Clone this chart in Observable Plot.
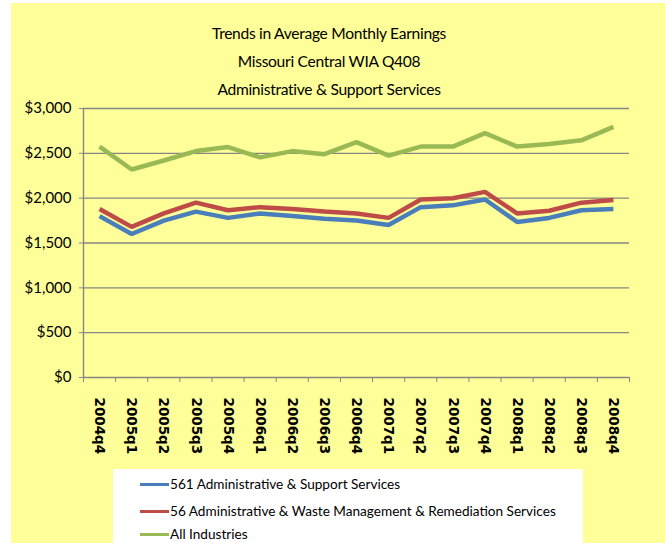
<!DOCTYPE html>
<html><head><meta charset="utf-8">
<script src="https://cdn.jsdelivr.net/npm/d3@7"></script>
<script src="https://cdn.jsdelivr.net/npm/@observablehq/plot@0.6"></script>
<style>
body{margin:0;background:#fff;width:665px;height:543px;overflow:hidden;position:relative;font-family:Lato,"Open Sans",Arial,sans-serif;color:#000}
#panel{position:absolute;left:11px;top:3px;width:654px;height:540px;background:#FFFF99}
.title{position:absolute;left:0;width:658px;text-align:center;font-size:15.6px;line-height:20px;letter-spacing:-0.3px}
#chart{position:absolute;left:11px;top:100px}
#legend{position:absolute;left:113px;top:469px;width:470px;height:74px;background:#fff}
.row{position:absolute;left:27px;height:20px;display:flex;align-items:center;font-size:13.6px;white-space:nowrap}
.sw{width:29px;height:3px;margin-right:1px}
</style>
</head><body>
<div id="panel"></div>
<div class="title" style="top:23px">Trends in Average Monthly Earnings</div>
<div class="title" style="top:51px">Missouri Central WIA Q408</div>
<div class="title" style="top:79px">Administrative &amp; Support Services</div>
<div id="chart"></div>
<div id="legend"></div>
<script>
const quarters = ["2004q4","2005q1","2005q2","2005q3","2005q4","2006q1","2006q2","2006q3","2006q4","2007q1","2007q2","2007q3","2007q4","2008q1","2008q2","2008q3","2008q4"];
const adminSupport = [1800,1600,1750,1850,1780,1830,1800,1770,1750,1700,1900,1920,1985,1735,1780,1865,1880];
const adminWaste = [1880,1680,1830,1950,1865,1900,1880,1850,1830,1780,1985,2000,2070,1830,1860,1950,1980];
const allIndustries = [2575,2320,2420,2525,2570,2455,2525,2490,2625,2475,2575,2575,2725,2575,2605,2645,2795];
const seriesNames = ["561 Administrative & Support Services","56 Administrative & Waste Management & Remediation Services","All Industries"];
const seriesColors = ["#4A7EBB","#BE4B48","#98B954"];
const yTicks = [0,500,1000,1500,2000,2500,3000];

const seriesValues = [adminSupport, adminWaste, allIndustries];
const rows = [];
seriesValues.forEach((vals, s) => vals.forEach((v, i) => rows.push({i: i + 0.5, v, series: seriesNames[s]})));

const gray = "#868686";
const chart = Plot.plot({
  width: 654,
  height: 365,
  marginLeft: 72,
  marginRight: 36,
  marginTop: 8,
  marginBottom: 88,
  style: {background: "transparent", color: "#000", overflow: "visible"},
  x: {type: "linear", domain: [0, quarters.length], axis: null},
  y: {domain: [0, 3000], axis: null},
  color: {domain: seriesNames, range: seriesColors},
  marks: [
    Plot.gridY(yTicks.filter(d => d > 0), {stroke: gray, strokeOpacity: 1, strokeWidth: 1.4}),
    Plot.ruleX([0], {stroke: gray, strokeWidth: 1.4}),
    Plot.ruleY([0], {stroke: gray, strokeWidth: 1.4}),
    Plot.axisY({ticks: yTicks, label: null, tickFormat: d => "$" + d3.format(",")(d), tickSize: 4, tickPadding: 8, stroke: gray, fontSize: 15, fontFamily: "Lato, Open Sans, Arial, sans-serif"}),
    Plot.axisX({ticks: d3.range(quarters.length + 1), label: null, tickSize: 5, tickFormat: () => "", stroke: gray}),
    Plot.axisX({ticks: quarters.map((q, i) => i + 0.5), label: null, tickFormat: d => quarters[Math.floor(d)], tickSize: 0, tickPadding: 20, tickRotate: 90, fontSize: 13.5, fontWeight: "bold", fontFamily: "DejaVu Sans, Verdana, sans-serif"}),
    Plot.line(rows, {x: "i", y: "v", z: "series", stroke: "series", strokeWidth: 4.5, strokeLinejoin: "miter", strokeLinecap: "butt"})
  ]
});
document.getElementById("chart").appendChild(chart);

const legend = document.getElementById("legend");
const rowTops = [5, 32, 55];
seriesNames.forEach((name, k) => {
  const r = document.createElement("div");
  r.className = "row";
  r.style.top = rowTops[k] + "px";
  const sw = document.createElement("span");
  sw.className = "sw";
  sw.style.background = seriesColors[k];
  const t = document.createElement("span");
  t.textContent = name;
  r.appendChild(sw); r.appendChild(t);
  legend.appendChild(r);
});
</script>
</body></html>
